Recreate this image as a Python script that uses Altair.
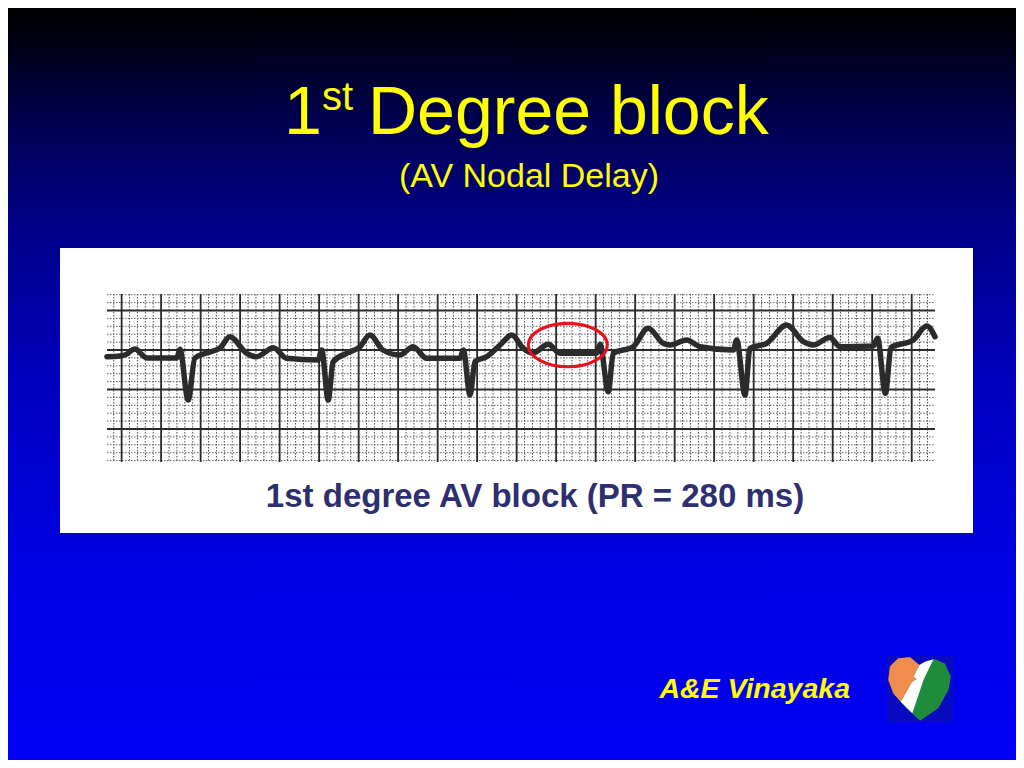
import altair as alt
import numpy as np
import pandas as pd

# ECG trace: time (s) and amplitude (mV)
ecg_t = [-0.074, -0.009, 0.020, 0.067, 0.128, 0.280, 0.295, 0.337, 0.371, 0.430,
         0.498, 0.548, 0.633, 0.684, 0.768, 0.835, 0.995, 1.013, 1.046, 1.071,
         1.139, 1.207, 1.257, 1.323, 1.409, 1.476, 1.544, 1.713, 1.730, 1.764,
         1.789, 1.848, 1.916, 1.975, 2.033, 2.083, 2.160, 2.219, 2.405, 2.422,
         2.464, 2.489, 2.590, 2.666, 2.742, 2.776, 2.861, 2.928, 3.097, 3.114,
         3.156, 3.181, 3.266, 3.367, 3.451, 3.502, 3.586, 3.637, 3.806, 3.827,
         3.867, 3.895, 4.008, 4.076, 4.118]
ecg_mv = [-0.085, -0.076, -0.060, 0.013, -0.101, -0.101, 0.009, -0.633, -0.101, -0.038,
          0.025, 0.168, -0.042, -0.085, 0.029, -0.105, -0.127, 0.000, -0.633, -0.148,
          -0.042, 0.042, 0.190, 0.000, -0.063, 0.042, -0.105, -0.105, 0.000, -0.570,
          -0.148, -0.085, 0.063, 0.190, 0.022, -0.038, 0.072, -0.042, -0.042, 0.072,
          -0.528, -0.042, 0.042, 0.275, 0.085, 0.063, 0.127, 0.042, 0.000, 0.127,
          -0.570, 0.022, 0.085, 0.316, 0.105, 0.063, 0.158, 0.042, 0.051, 0.148,
          -0.548, 0.032, 0.127, 0.304, 0.168]

# highlighted PR segment (red ellipse centre)
pr_t = [2.259]
pr_mv = [0.063]

# texts
title_num = "1"
title_sup = "st"
title_rest = "Degree block"
subtitle = "(AV Nodal Delay)"
caption = "1st degree AV block (PR = 280 ms)"
author = "A&E Vinayaka"

# strip extent (s, mV)
T_LO, T_HI = -0.074, 4.118
V_LO, V_HI = -1.418, 0.709

# ---------------- scales ----------------
xs = alt.Scale(domain=[T_LO, T_HI], range=[99, 927], nice=False, zero=False)
ys = alt.Scale(domain=[V_LO, V_HI], range=[454, 286], nice=False, zero=False)

one = pd.DataFrame({"k": [0]})

# paper grid (0.04 s / 0.1 mV small boxes, 0.2 s / 0.5 mV large boxes)
minor_t = [round(v, 2) for v in np.arange(-1, 104) * 0.04 if T_LO <= v <= T_HI]
minor_v = [round(v, 2) for v in np.arange(-14, 8) * 0.1 if V_LO <= v <= V_HI]
major_t = [round(v, 2) for v in np.arange(0, 21) * 0.2]
major_v = [-1.0, -0.5, 0.0, 0.5]

def vrules(vals):
    return pd.DataFrame({"t": vals, "lo": V_LO, "hi": V_HI})

def hrules(vals):
    return pd.DataFrame({"v": vals, "lo": T_LO, "hi": T_HI})

W, H = 1008, 752

bg = alt.Chart(one).mark_rect(
    fill=alt.LinearGradient(
        gradient="linear", x1=0, x2=0, y1=0, y2=1,
        stops=[alt.GradientStop(color="#000000", offset=0),
               alt.GradientStop(color="#000012", offset=0.04),
               alt.GradientStop(color="#000050", offset=0.15),
               alt.GradientStop(color="#00008c", offset=0.30),
               alt.GradientStop(color="#0000c0", offset=0.50),
               alt.GradientStop(color="#0000e4", offset=0.75),
               alt.GradientStop(color="#0000f5", offset=1.0)]),
).encode(x=alt.value(0), x2=alt.value(W), y=alt.value(0), y2=alt.value(H))

panel = alt.Chart(one).mark_rect(fill="white").encode(
    x=alt.value(52), x2=alt.value(965), y=alt.value(240), y2=alt.value(525))

minor_vr = alt.Chart(vrules(minor_t)).mark_rule(
    stroke="#505050", strokeWidth=1, strokeDash=[1.5, 1.5]).encode(
    x=alt.X("t:Q", scale=xs, axis=None),
    y=alt.Y("hi:Q", scale=ys, axis=None), y2="lo:Q")
minor_hr = alt.Chart(hrules(minor_v)).mark_rule(
    stroke="#606060", strokeWidth=1, strokeDash=[1.5, 1.5]).encode(
    y=alt.Y("v:Q", scale=ys, axis=None),
    x=alt.X("lo:Q", scale=xs, axis=None), x2="hi:Q")
major_vr = alt.Chart(vrules(major_t)).mark_rule(
    stroke="#2a2a2a", strokeWidth=1.8).encode(
    x=alt.X("t:Q", scale=xs, axis=None),
    y=alt.Y("hi:Q", scale=ys, axis=None), y2="lo:Q")
major_hr = alt.Chart(hrules(major_v)).mark_rule(
    stroke="#2a2a2a", strokeWidth=1.8).encode(
    y=alt.Y("v:Q", scale=ys, axis=None),
    x=alt.X("lo:Q", scale=xs, axis=None), x2="hi:Q")

trace = alt.Chart(pd.DataFrame({"t": ecg_t, "mv": ecg_mv})).mark_line(
    color="#2b2b2b", strokeWidth=5.5, interpolate="monotone",
    strokeJoin="round", strokeCap="round").encode(
    x=alt.X("t:Q", scale=xs, axis=None),
    y=alt.Y("mv:Q", scale=ys, axis=None))

ellipse = alt.Chart(pd.DataFrame({"t": pr_t, "mv": pr_mv})).mark_point(
    shape="M -1 0 A 1 0.55 0 1 1 1 0 A 1 0.55 0 1 1 -1 0 Z",
    size=79 * 79, filled=False, stroke="#e8101c", strokeWidth=3.2, opacity=1).encode(
    x=alt.X("t:Q", scale=xs, axis=None),
    y=alt.Y("mv:Q", scale=ys, axis=None))

FONT = "Liberation Sans"
YEL = "#ffff00"

def txt(s, x, y, size, color=YEL, align="left", weight="normal", style="normal"):
    return alt.Chart(one).mark_text(
        text=s, align=align, baseline="alphabetic", font=FONT, fontSize=size,
        fontWeight=weight, fontStyle=style, color=color).encode(
        x=alt.value(x), y=alt.value(y))

t1 = txt(title_num, 276, 126, 68)
t2 = txt(title_sup, 314, 102, 40)
t3 = txt(title_rest, 360, 126, 68)
t4 = txt(subtitle, 521, 179, 34, align="center")
t5 = txt(caption, 527, 499, 33, color="#2d2f6e", align="center", weight="bold")
t6 = txt(author, 842, 690, 28.5, align="right", weight="bold", style="italic")

# logo
logo_box = alt.Chart(one).mark_rect(fill="#0a0ac0").encode(
    x=alt.value(879), x2=alt.value(945), y=alt.value(648), y2=alt.value(714))
heart_path = ("M -0.02 -0.75 L 0.16 -0.85 L 0.47 -0.93 L 0.78 -0.80 L 0.96 -0.39 "
              "L 0.89 0.03 L 0.57 0.60 L 0.00 0.99 L -0.42 0.60 L -0.83 0.14 "
              "L -0.99 -0.28 L -0.94 -0.70 L -0.68 -0.96 L -0.31 -0.99 Z")
bolt_path = ("M -0.02 -0.75 L 0.16 -0.85 L 0.42 -0.93 L 0.115 -0.30 L -0.24 0.76 "
             "L -0.604 0.396 L -0.25 -0.229 L -0.104 -0.302 L -0.208 -0.385 Z")
orange_path = ("M -0.02 -0.75 L -0.208 -0.385 L -0.104 -0.302 L -0.25 -0.229 "
               "L -0.604 0.396 L -0.83 0.14 L -0.99 -0.28 L -0.94 -0.70 "
               "L -0.68 -0.96 L -0.31 -0.99 Z")

def logo_part(path, color):
    return alt.Chart(one).mark_point(
        shape=path, size=64 * 64, filled=True, fill=color,
        strokeWidth=0, opacity=1).encode(x=alt.value(912), y=alt.value(681))

lg1 = logo_part(heart_path, "#1e8c3c")
lg2 = logo_part(bolt_path, "#ffffff")
lg3 = logo_part(orange_path, "#f08c50")

chart = alt.layer(
    bg, panel, minor_vr, minor_hr, major_vr, major_hr, trace, ellipse,
    t1, t2, t3, t4, t5, t6, logo_box, lg1, lg2, lg3
).properties(
    width=W, height=H, autosize="none", padding=0
).configure_view(strokeWidth=0)

chart.save("out.html", embed_options={"renderer": "svg", "actions": False})
